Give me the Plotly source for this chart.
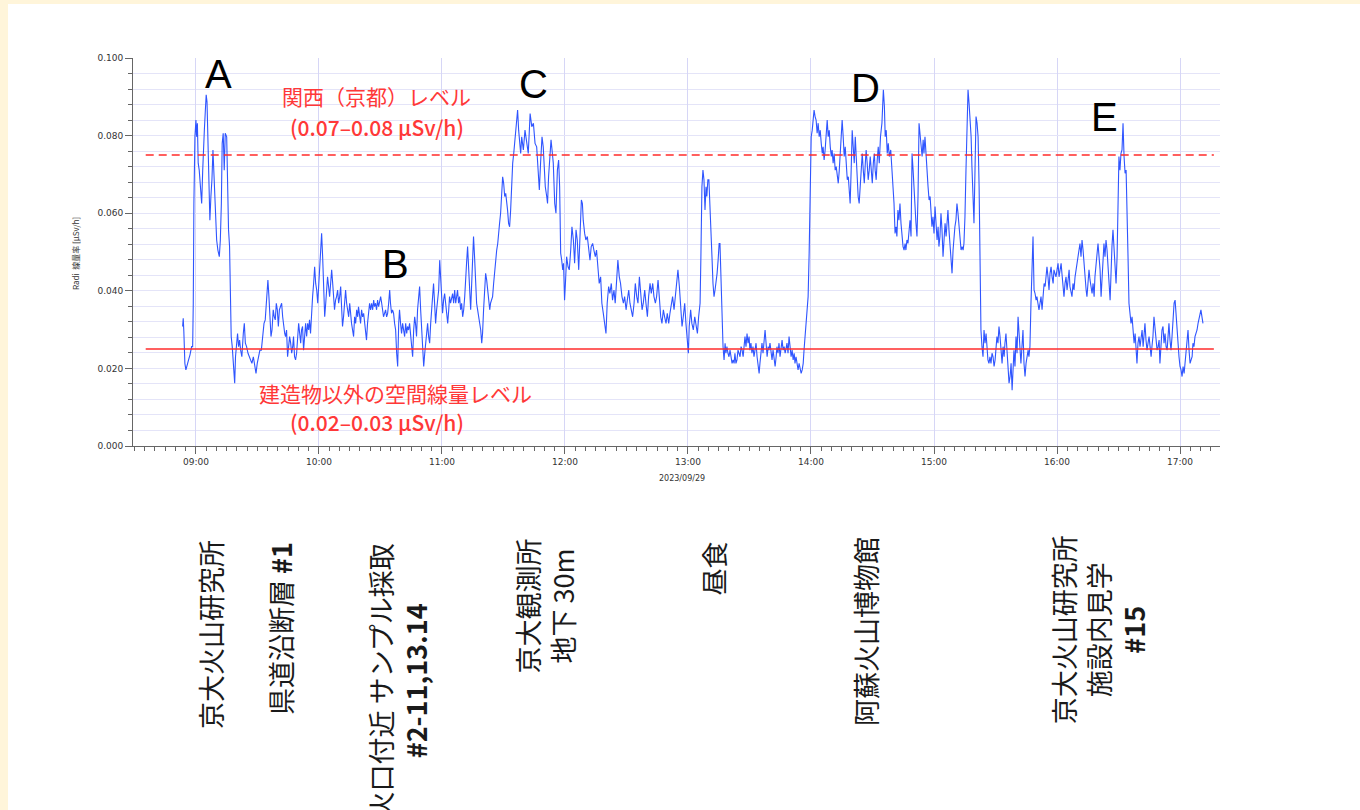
import pandas as pd
import plotly.graph_objects as go

# ---------------- data (minutes after 09:00, dose rate µSv/h) ----------------
seg_morning_A = [(-6.5,0.0308),(-6.2,0.0329),(-5.9,0.0295),(-5.4,0.0213),(-4.9,0.0196),(-4.2,0.0213),(-3.6,0.0222),(-2.9,0.0235),(-2.1,0.0256),(-1.6,0.0256),(-1.3,0.0368),(-1.0,0.0625),(-0.5,0.0797),(0.0,0.0840),(0.3,0.0797),(0.7,0.0832),(1.1,0.0729),(1.6,0.0711),(2.3,0.0668),(2.8,0.0625),(3.3,0.0711),(3.6,0.0780),(4.1,0.0814),(4.6,0.0866),(5.0,0.0905),(5.4,0.0887),(5.7,0.0832),(6.2,0.0737),(6.5,0.0668),(6.8,0.0582),(7.3,0.0643),(7.8,0.0686),(8.3,0.0763),(8.8,0.0686),(9.4,0.0610),(10.1,0.0531),(10.7,0.0505),(11.4,0.0488),(11.9,0.0531),(12.4,0.0625),(12.8,0.0780),(13.3,0.0806),(13.8,0.0711),(14.3,0.0806),(15.0,0.0797),(15.4,0.0668),(15.9,0.0557),(16.4,0.0514),(16.7,0.0368),(17.2,0.0282),(17.7,0.0256),(18.2,0.0222),(18.9,0.0162),(19.3,0.0230),(19.8,0.0265),(20.3,0.0290),(20.8,0.0256),(21.3,0.0273),(21.8,0.0247),(22.4,0.0230),(23.1,0.0290),(23.6,0.0316),(24.1,0.0265),(24.7,0.0256),(25.4,0.0239),(26.0,0.0230),(26.7,0.0222),(27.3,0.0213),(28.0,0.0230),(28.6,0.0213),(29.3,0.0187),(29.9,0.0213),(30.6,0.0230),(31.2,0.0247),(31.9,0.0247),(32.5,0.0282),(33.2,0.0316),(33.8,0.0325),(34.5,0.0376),(35.1,0.0428),(35.6,0.0385),(36.1,0.0342),(36.6,0.0282),(37.1,0.0299),(37.7,0.0351),(38.2,0.0333),(38.7,0.0325),(39.2,0.0368),(39.7,0.0351),(40.2,0.0308),(40.7,0.0351),(41.2,0.0359),(41.8,0.0368),(42.3,0.0333),(42.8,0.0308),(43.3,0.0290),(43.7,0.0282)]

seg_morning_B = [(44.2,0.0299),(44.7,0.0230),(45.2,0.0256),(45.7,0.0282),(46.2,0.0265),(46.7,0.0239),(47.2,0.0256),(47.6,0.0282),(48.1,0.0230),(48.6,0.0222),(49.1,0.0239),(49.6,0.0273),(50.1,0.0316),(50.6,0.0290),(51.1,0.0265),(51.5,0.0299),(52.0,0.0308),(52.5,0.0247),(53.0,0.0290),(53.5,0.0316),(54.0,0.0282),(54.5,0.0316),(55.0,0.0299),(55.4,0.0325),(55.9,0.0290),(56.4,0.0351),(56.9,0.0385),(57.4,0.0419),(57.9,0.0462),(58.4,0.0419),(58.9,0.0402),(59.4,0.0368),(59.8,0.0411),(60.3,0.0454),(60.8,0.0505),(61.3,0.0548),(61.8,0.0488),(62.3,0.0411),(62.8,0.0333),(63.3,0.0368),(63.7,0.0402),(64.2,0.0436),(64.7,0.0411),(65.2,0.0385),(65.7,0.0419),(66.2,0.0454),(66.7,0.0419),(67.2,0.0368),(67.6,0.0351),(68.1,0.0376),(68.6,0.0385),(69.1,0.0402),(69.6,0.0368),(70.1,0.0385),(70.6,0.0411),(71.1,0.0351),(71.5,0.0308),(72.0,0.0333),(72.5,0.0376),(73.0,0.0402),(73.5,0.0368),(74.0,0.0351),(74.5,0.0333),(75.0,0.0368),(75.4,0.0333),(75.9,0.0316),(76.4,0.0299),(76.9,0.0282),(77.4,0.0333),(77.9,0.0316),(78.4,0.0351),(78.9,0.0333),(79.3,0.0359),(79.8,0.0342),(80.3,0.0316),(80.8,0.0351),(81.3,0.0333),(81.8,0.0342),(82.3,0.0316),(82.8,0.0299),(83.2,0.0273),(83.7,0.0316),(84.2,0.0351),(84.7,0.0368),(85.2,0.0351),(85.7,0.0368),(86.2,0.0351),(86.7,0.0376),(87.1,0.0359),(87.6,0.0368),(88.1,0.0351),(88.6,0.0376),(89.1,0.0359),(89.6,0.0376),(90.1,0.0385),(90.6,0.0368),(91.0,0.0351),(91.5,0.0333),(92.0,0.0342),(92.5,0.0351),(93.0,0.0333),(93.5,0.0342),(94.0,0.0368),(94.5,0.0402),(94.9,0.0368),(95.4,0.0342),(95.9,0.0351),(96.4,0.0342),(96.9,0.0316),(97.4,0.0299),(97.9,0.0239),(98.4,0.0205),(98.9,0.0316),(99.3,0.0351),(99.8,0.0316)]

seg_late_morning = [(100.3,0.0290),(100.8,0.0316),(101.3,0.0299),(101.8,0.0282),(102.3,0.0316),(102.8,0.0290),(103.2,0.0308),(103.7,0.0299),(104.2,0.0316),(104.7,0.0282),(105.2,0.0247),(105.7,0.0230),(106.2,0.0299),(106.7,0.0333),(107.1,0.0316),(107.6,0.0282),(108.1,0.0351),(108.6,0.0393),(109.1,0.0411),(109.6,0.0351),(110.1,0.0290),(110.6,0.0239),(111.1,0.0205),(111.6,0.0239),(112.0,0.0265),(112.5,0.0282),(113.0,0.0316),(113.5,0.0282),(114.0,0.0265),(114.5,0.0316),(115.0,0.0351),(115.5,0.0385),(115.9,0.0419),(116.4,0.0368),(116.9,0.0316),(117.4,0.0351),(117.9,0.0376),(118.4,0.0402),(118.9,0.0479),(119.4,0.0436),(119.8,0.0385),(120.3,0.0342),(120.8,0.0376),(121.3,0.0393),(121.8,0.0368),(122.3,0.0333),(122.8,0.0316),(123.3,0.0351),(123.7,0.0385),(124.2,0.0368),(124.7,0.0385),(125.2,0.0393),(125.7,0.0368),(126.2,0.0402),(126.7,0.0368),(127.2,0.0385),(127.6,0.0402),(128.1,0.0368),(128.6,0.0385),(129.1,0.0351),(129.6,0.0368),(130.1,0.0333),(130.6,0.0351),(131.1,0.0385),(131.5,0.0436),(132.0,0.0471),(132.5,0.0514),(133.0,0.0454),(133.5,0.0385),(134.0,0.0351),(134.5,0.0419),(135.0,0.0488),(135.4,0.0540),(135.9,0.0488),(136.4,0.0411),(136.9,0.0368),(137.4,0.0351),(137.9,0.0333),(138.4,0.0316),(138.9,0.0299),(139.4,0.0265),(139.8,0.0290),(140.3,0.0351),(140.8,0.0411),(141.3,0.0445),(141.8,0.0428),(142.3,0.0402),(142.8,0.0368),(143.3,0.0351),(143.7,0.0368),(144.2,0.0376),(144.7,0.0385),(145.2,0.0419),(145.7,0.0454),(146.2,0.0488),(146.7,0.0505),(147.2,0.0522),(147.6,0.0557),(148.1,0.0574),(148.6,0.0600),(149.1,0.0643),(149.6,0.0694),(150.1,0.0677),(150.6,0.0643),(151.1,0.0651),(151.5,0.0634),(152.0,0.0608),(152.5,0.0574),(153.0,0.0565),(153.5,0.0608),(154.0,0.0694),(154.5,0.0729),(155.0,0.0754),(155.4,0.0780),(155.9,0.0814),(156.4,0.0849),(156.9,0.0866),(157.4,0.0814),(157.9,0.0771),(158.4,0.0754)]

seg_noon_C = [(158.9,0.0797),(159.7,0.0763),(160.5,0.0814),(161.3,0.0789),(162.1,0.0754),(163.0,0.0857),(163.8,0.0823),(164.6,0.0832),(165.4,0.0780),(166.2,0.0771),(167.0,0.0711),(167.5,0.0660),(168.1,0.0729),(168.8,0.0797),(169.4,0.0771),(169.9,0.0711),(170.4,0.0668),(171.1,0.0643),(171.5,0.0625),(172.0,0.0694),(172.7,0.0763),(173.2,0.0789),(173.7,0.0763),(174.3,0.0729),(175.0,0.0625),(175.6,0.0600),(176.3,0.0711),(176.9,0.0737),(177.4,0.0668),(177.9,0.0497),(178.4,0.0479),(178.9,0.0454),(179.3,0.0471),(179.8,0.0376),(180.3,0.0428),(180.8,0.0488),(181.5,0.0462),(182.1,0.0454),(182.8,0.0505),(183.4,0.0565),(184.1,0.0531),(184.7,0.0471),(185.4,0.0557),(186.0,0.0531),(186.7,0.0454),(187.3,0.0531),(188.0,0.0634),(188.5,0.0625),(188.9,0.0582),(189.6,0.0548),(190.2,0.0531),(190.9,0.0540),(191.5,0.0514),(192.2,0.0479),(192.8,0.0514),(193.5,0.0522),(194.1,0.0505),(194.8,0.0488),(195.4,0.0505),(196.1,0.0454),(196.7,0.0419),(197.4,0.0436),(198.0,0.0368),(198.7,0.0342),(199.3,0.0316),(200.0,0.0290),(200.6,0.0368),(201.3,0.0411),(201.9,0.0393),(202.6,0.0419),(203.2,0.0376),(203.9,0.0402),(204.5,0.0368),(205.2,0.0419),(205.8,0.0479),(206.5,0.0436),(207.1,0.0419),(207.8,0.0385),(208.5,0.0368),(209.1,0.0385),(209.8,0.0351),(210.4,0.0376),(211.1,0.0402),(211.7,0.0368),(212.4,0.0342),(213.0,0.0333),(213.7,0.0368),(214.3,0.0419),(215.0,0.0385),(215.6,0.0368),(216.3,0.0436),(216.9,0.0402),(217.6,0.0351),(218.2,0.0368),(218.9,0.0402),(219.5,0.0368),(220.2,0.0333),(220.8,0.0385),(221.5,0.0419),(222.1,0.0393),(222.8,0.0419),(223.4,0.0385),(224.1,0.0368),(224.7,0.0385),(225.4,0.0428),(226.0,0.0385),(226.7,0.0333),(227.3,0.0316),(228.0,0.0351),(228.6,0.0333),(229.3,0.0316),(229.9,0.0342),(230.6,0.0316),(231.2,0.0342),(231.9,0.0368),(232.5,0.0385),(233.2,0.0351),(233.8,0.0385),(234.5,0.0436),(235.1,0.0454),(235.8,0.0411),(236.4,0.0351),(237.1,0.0308),(237.7,0.0333),(238.4,0.0368),(239.0,0.0316),(239.7,0.0265)]

seg_lunch = [(240.2,0.0239),(240.6,0.0308),(241.3,0.0351),(241.9,0.0316),(242.6,0.0299),(243.3,0.0333),(243.9,0.0316),(244.6,0.0290),(245.2,0.0333),(245.9,0.0368),(246.3,0.0488),(246.8,0.0668),(247.3,0.0711),(247.8,0.0686),(248.3,0.0608),(248.8,0.0668),(249.2,0.0643),(249.7,0.0686),(250.2,0.0686),(250.7,0.0600),(251.2,0.0557),(251.7,0.0488),(252.2,0.0419),(252.7,0.0385),(253.2,0.0402),(253.7,0.0419),(254.2,0.0445),(254.7,0.0479),(255.2,0.0522),(255.6,0.0522),(256.1,0.0419),(256.6,0.0316),(257.1,0.0256),(257.6,0.0222),(258.1,0.0265),(258.5,0.0239),(259.0,0.0256),(259.5,0.0239),(260.0,0.0230),(260.5,0.0247),(261.0,0.0222),(261.5,0.0213),(262.0,0.0222),(262.5,0.0213),(262.9,0.0239),(263.4,0.0213),(263.9,0.0222),(264.4,0.0247),(264.9,0.0239),(265.4,0.0230),(265.9,0.0256),(266.4,0.0247),(266.9,0.0230),(267.3,0.0265),(267.8,0.0282),(268.3,0.0256),(268.8,0.0290),(269.3,0.0265),(269.8,0.0282),(270.2,0.0247),(270.7,0.0265),(271.2,0.0239),(271.7,0.0256),(272.2,0.0230),(272.7,0.0247),(273.2,0.0265),(273.7,0.0230),(274.2,0.0213),(274.7,0.0187),(275.1,0.0213),(275.6,0.0247),(276.1,0.0265),(276.6,0.0239),(277.1,0.0273),(277.6,0.0299),(278.1,0.0265),(278.6,0.0230),(279.1,0.0256),(279.5,0.0247),(280.0,0.0265),(280.5,0.0239),(281.0,0.0222),(281.5,0.0247),(282.0,0.0222),(282.5,0.0205),(283.0,0.0230),(283.4,0.0256),(283.9,0.0239),(284.4,0.0265),(284.9,0.0230),(285.4,0.0247),(285.9,0.0273),(286.4,0.0247),(286.9,0.0256),(287.4,0.0239),(287.8,0.0256),(288.3,0.0265),(288.8,0.0239),(289.3,0.0282),(289.8,0.0256),(290.3,0.0230),(290.8,0.0247),(291.3,0.0222),(291.8,0.0239),(292.2,0.0213),(292.7,0.0230),(293.2,0.0205),(293.7,0.0196),(294.2,0.0213),(294.7,0.0196),(295.2,0.0187),(295.7,0.0196),(296.2,0.0213),(296.6,0.0247),(297.1,0.0282),(297.6,0.0316),(298.1,0.0368),(298.6,0.0385),(299.1,0.0497),(299.6,0.0711)]

seg_museum_D = [(300.1,0.0797),(300.6,0.0814),(301.1,0.0857),(301.5,0.0866),(302.0,0.0849),(302.5,0.0840),(303.0,0.0806),(303.5,0.0832),(304.0,0.0797),(304.5,0.0814),(305.0,0.0780),(305.5,0.0754),(305.9,0.0771),(306.4,0.0737),(306.9,0.0763),(307.4,0.0797),(307.9,0.0840),(308.4,0.0797),(308.9,0.0814),(309.4,0.0771),(309.9,0.0746),(310.3,0.0763),(310.8,0.0729),(311.3,0.0754),(311.8,0.0711),(312.3,0.0720),(312.8,0.0694),(313.3,0.0677),(313.8,0.0711),(314.2,0.0746),(314.7,0.0780),(315.2,0.0840),(315.7,0.0797),(316.2,0.0746),(316.7,0.0771),(317.2,0.0720),(317.7,0.0686),(318.2,0.0694),(318.6,0.0651),(319.1,0.0625),(319.6,0.0711),(320.1,0.0814),(320.6,0.0771),(321.1,0.0729),(321.6,0.0797),(322.1,0.0746),(322.5,0.0686),(323.0,0.0643),(323.5,0.0625),(324.0,0.0668),(324.5,0.0703),(325.0,0.0754),(325.5,0.0711),(326.0,0.0677),(326.5,0.0729),(326.9,0.0763),(327.4,0.0729),(327.9,0.0686),(328.4,0.0711),(328.9,0.0746),(329.4,0.0711),(329.9,0.0677),(330.4,0.0729),(330.9,0.0754),(331.3,0.0711),(331.8,0.0686),(332.3,0.0737),(332.8,0.0771),(333.3,0.0729),(333.9,0.0797),(334.6,0.0832),(335.3,0.0918),(335.8,0.0875),(336.2,0.0797),(336.7,0.0814),(337.2,0.0754),(337.7,0.0780),(338.2,0.0746),(338.9,0.0763),(339.5,0.0711),(340.0,0.0677),(340.5,0.0625),(341.0,0.0548),(341.5,0.0565),(341.9,0.0540),(342.4,0.0608),(342.9,0.0582),(343.4,0.0625),(343.9,0.0574),(344.4,0.0540),(344.9,0.0514),(345.4,0.0505),(345.9,0.0522),(346.3,0.0505),(346.8,0.0531),(347.3,0.0522),(347.8,0.0548),(348.3,0.0582),(348.8,0.0540),(349.3,0.0754),(349.8,0.0711),(350.2,0.0668),(350.7,0.0608),(351.2,0.0574),(351.7,0.0540),(352.2,0.0643),(352.7,0.0832),(353.2,0.0797),(353.7,0.0771),(354.2,0.0746),(354.7,0.0789),(355.1,0.0754),(355.6,0.0797),(356.1,0.0729),(356.6,0.0711),(357.1,0.0668),(357.6,0.0634),(358.1,0.0643),(358.5,0.0608),(359.0,0.0565),(359.5,0.0591)]

seg_afternoon = [(360.0,0.0548),(360.5,0.0617),(361.0,0.0565),(361.5,0.0531),(362.0,0.0565),(362.4,0.0514),(362.9,0.0540),(363.4,0.0600),(363.9,0.0557),(364.4,0.0488),(364.9,0.0531),(365.4,0.0574),(365.9,0.0540),(366.3,0.0565),(366.8,0.0608),(367.3,0.0557),(367.8,0.0522),(368.3,0.0488),(368.8,0.0445),(369.3,0.0505),(369.8,0.0548),(370.2,0.0565),(370.7,0.0582),(371.2,0.0625),(371.7,0.0600),(372.2,0.0565),(372.7,0.0531),(373.2,0.0505),(373.7,0.0514),(374.2,0.0505),(374.6,0.0522),(375.1,0.0591),(375.6,0.0711),(376.1,0.0866),(376.6,0.0918),(377.1,0.0883),(377.6,0.0849),(378.1,0.0797),(378.5,0.0720),(379.0,0.0625),(379.5,0.0574),(380.0,0.0711),(380.5,0.0849),(381.0,0.0832),(381.5,0.0797),(382.0,0.0668),(382.4,0.0454),(382.9,0.0299),(383.4,0.0256),(383.9,0.0230),(384.4,0.0299),(384.9,0.0265),(385.4,0.0290),(385.9,0.0239),(386.3,0.0222),(386.8,0.0213),(387.3,0.0230),(387.8,0.0213),(388.3,0.0239),(388.8,0.0230),(389.3,0.0205),(389.8,0.0222),(390.2,0.0247),(390.7,0.0282),(391.2,0.0265),(391.7,0.0308),(392.2,0.0282),(392.7,0.0247),(393.2,0.0213),(393.7,0.0256),(394.2,0.0230),(394.6,0.0265),(395.1,0.0290),(395.6,0.0247),(396.1,0.0196),(396.6,0.0162),(397.1,0.0179),(397.6,0.0213),(398.1,0.0144),(398.5,0.0196),(399.0,0.0247),(399.5,0.0205),(400.0,0.0282),(400.5,0.0239),(401.0,0.0333),(401.5,0.0290),(402.0,0.0256),(402.4,0.0213),(402.9,0.0256),(403.4,0.0299),(403.9,0.0213),(404.4,0.0179),(404.9,0.0213),(405.4,0.0230),(405.9,0.0247),(406.3,0.0230),(406.8,0.0256),(407.3,0.0368),(407.8,0.0454),(408.3,0.0540),(408.8,0.0402),(409.3,0.0393),(409.8,0.0376),(410.2,0.0385),(410.7,0.0368),(411.2,0.0351),(411.7,0.0368),(412.2,0.0385),(412.7,0.0351),(413.2,0.0376),(413.7,0.0419),(414.2,0.0411),(414.6,0.0436),(415.1,0.0462),(415.6,0.0436),(416.1,0.0402),(416.6,0.0445),(417.1,0.0462),(417.6,0.0436),(418.1,0.0419),(418.5,0.0454),(419.0,0.0445),(419.5,0.0436)]

seg_visit_E = [(420.0,0.0454),(420.5,0.0471),(421.0,0.0436),(421.5,0.0462),(422.0,0.0471),(422.4,0.0445),(422.9,0.0419),(423.4,0.0385),(423.9,0.0419),(424.4,0.0436),(424.9,0.0402),(425.4,0.0428),(425.9,0.0454),(426.3,0.0411),(426.8,0.0393),(427.3,0.0385),(427.8,0.0419),(428.3,0.0402),(428.8,0.0436),(429.3,0.0454),(429.8,0.0471),(430.2,0.0488),(430.7,0.0514),(431.2,0.0522),(431.7,0.0488),(432.2,0.0531),(432.7,0.0505),(433.2,0.0454),(433.7,0.0436),(434.2,0.0402),(434.6,0.0385),(435.1,0.0419),(435.6,0.0454),(436.1,0.0428),(436.6,0.0411),(437.1,0.0393),(437.6,0.0419),(438.1,0.0385),(438.5,0.0436),(439.0,0.0471),(439.5,0.0497),(440.0,0.0522),(440.5,0.0488),(441.0,0.0454),(441.5,0.0385),(442.0,0.0436),(442.4,0.0497),(442.9,0.0522),(443.4,0.0488),(443.9,0.0531),(444.4,0.0505),(444.9,0.0471),(445.4,0.0419),(445.9,0.0376),(446.3,0.0454),(446.8,0.0514),(447.3,0.0557),(447.8,0.0505),(448.3,0.0454),(448.8,0.0419),(449.3,0.0488),(449.8,0.0625),(450.2,0.0746),(450.7,0.0711),(451.2,0.0754),(451.7,0.0763),(452.2,0.0832),(452.7,0.0746),(453.2,0.0703),(453.7,0.0711),(454.2,0.0625),(454.6,0.0497),(455.1,0.0368),(455.6,0.0333),(456.1,0.0316),(456.6,0.0333),(457.1,0.0290),(457.6,0.0265),(458.1,0.0290),(458.5,0.0256),(459.0,0.0213),(459.5,0.0265),(460.0,0.0282),(460.5,0.0256),(461.0,0.0273),(461.5,0.0299),(462.0,0.0256),(462.4,0.0282),(462.9,0.0316),(463.4,0.0273),(463.9,0.0247),(464.4,0.0265),(464.9,0.0282),(465.4,0.0256),(465.9,0.0230),(466.3,0.0256),(466.8,0.0282),(467.3,0.0333),(467.8,0.0299),(468.3,0.0273),(468.8,0.0247),(469.3,0.0256),(469.8,0.0273),(470.2,0.0213),(470.7,0.0265),(471.2,0.0299),(471.7,0.0308),(472.2,0.0265),(472.7,0.0290),(473.2,0.0256),(473.7,0.0247),(474.2,0.0282),(474.6,0.0316),(475.1,0.0273),(475.6,0.0247),(476.1,0.0282),(476.6,0.0342),(477.1,0.0368),(477.6,0.0376),(478.1,0.0333),(478.5,0.0290),(479.0,0.0256),(479.5,0.0230),(480.0,0.0205),(480.5,0.0196),(481.0,0.0179),(481.5,0.0205),(482.0,0.0187),(482.4,0.0213),(482.9,0.0247),(483.4,0.0282),(483.9,0.0299),(484.4,0.0247),(484.9,0.0213),(485.4,0.0222),(485.9,0.0230),(486.3,0.0265),(486.8,0.0256),(487.3,0.0282),(487.8,0.0290),(488.3,0.0299),(488.8,0.0316),(489.3,0.0333),(489.8,0.0342),(490.2,0.0351),(490.7,0.0333),(491.2,0.0316)]

segments = [seg_morning_A, seg_morning_B, seg_late_morning, seg_noon_C,
            seg_lunch, seg_museum_D, seg_afternoon, seg_visit_E]

# reference levels (µSv/h) and the time span (minutes after 09:00) they are drawn over
kansai_level = 0.075
outdoor_level = 0.025
level_span_minutes = [-24.5, 496.5]

x_range_minutes = [-30.7, 499.5]
y_range = [0.0, 0.100]
date_label = "2023/09/29"
y_title = "Radi  線量率 [µSv/h]"

peak_letters = ["A", "B", "C", "D", "E"]
peak_pos = [(0.0791, 0.958), (0.2419, 0.469), (0.3689, 0.933), (0.6743, 0.923), (0.8933, 0.848)]

red_texts = ["関西（京都）レベル", "(0.07–0.08 µSv/h)",
             "建造物以外の空間線量レベル", "(0.02–0.03 µSv/h)"]
red_weights = [400, 500, 400, 500]
red_pos = [(0.2236, 0.902), (0.2245, 0.822), (0.2419, 0.137), (0.2245, 0.062)]

site_labels = ["京大火山研究所",
               "県道沿断層 <b>#1</b>",
               "火口付近 サンプル採取<br><b>#2-11,13.14</b>",
               "京大観測所<br>地下 30m",
               "昼食",
               "阿蘇火山博物館",
               "京大火山研究所<br>施設内見学<br><b>#15</b>"]
site_pos = [(0.0708, -0.236), (0.1352, -0.241), (0.2433, -0.246), (0.3786, -0.233),
            (0.5345, -0.241), (0.6743, -0.228), (0.8878, -0.226)]

# ---------------- build ----------------
base = pd.Timestamp("2023-09-29 09:00:00")
def to_time(mins):
    return base + pd.to_timedelta(mins, unit="m")

all_pts = [p for seg in segments for p in seg]
times = [to_time(t) for t, _ in all_pts]
vals = [v for _, v in all_pts]

fig = go.Figure()
fig.add_trace(go.Scatter(x=times, y=vals, mode="lines",
                         line=dict(color="#2f55ff", width=1.1), hoverinfo="skip"))

span = [to_time(m) for m in level_span_minutes]
fig.add_trace(go.Scatter(x=span, y=[kansai_level, kansai_level], mode="lines",
                         line=dict(color="#ff2b2b", width=1.6, dash="8px,5px")))
fig.add_trace(go.Scatter(x=span, y=[outdoor_level, outdoor_level], mode="lines",
                         line=dict(color="#ff2b2b", width=1.6)))

grid_c = "#e4e4f8"
fig.update_xaxes(range=[to_time(x_range_minutes[0]), to_time(x_range_minutes[1])],
                 type="date", tickformat="%H:%M", dtick=3600000,
                 tick0="2023-09-29 09:00:00", ticks="outside", ticklen=7,
                 tickcolor="#666", showline=True, linecolor="#666", linewidth=1,
                 showgrid=True, gridcolor="#d6d6f6", gridwidth=1, zeroline=False,
                 tickfont=dict(family="DejaVu Sans", size=9, color="#333"),
                 minor=dict(dtick=300000, ticks="outside", ticklen=4,
                            tickcolor="#666", showgrid=False))
fig.update_yaxes(range=y_range, dtick=0.02, tickformat=".3f", ticks="outside",
                 ticklen=7, tickcolor="#666", showline=True, linecolor="#666",
                 linewidth=1, showgrid=True, gridcolor=grid_c, zeroline=False,
                 tickfont=dict(family="DejaVu Sans", size=9, color="#333"),
                 minor=dict(dtick=0.004, ticks="outside", ticklen=4,
                            tickcolor="#666", showgrid=True, gridcolor=grid_c))

ann = []
for txt, (px, py) in zip(peak_letters, peak_pos):
    ann.append(dict(text=txt, x=px, y=py, xref="paper", yref="paper",
                    showarrow=False, xanchor="center", yanchor="middle",
                    font=dict(family="Liberation Sans", size=40, color="#000")))
for txt, wt, (px, py) in zip(red_texts, red_weights, red_pos):
    ann.append(dict(text=txt, x=px, y=py, xref="paper", yref="paper",
                    showarrow=False, xanchor="center", yanchor="middle",
                    font=dict(family="Noto Sans CJK JP", size=21, color="#ff3838",
                              weight=wt)))
for txt, (px, py) in zip(site_labels, site_pos):
    ann.append(dict(text=txt, x=px, y=py, xref="paper", yref="paper",
                    showarrow=False, xanchor="center", yanchor="top",
                    textangle=-90, align="center",
                    font=dict(family="Noto Sans CJK JP", size=27, color="#1a1a1a")))
ann.append(dict(text=date_label, x=0.505, y=-0.085, xref="paper", yref="paper",
                showarrow=False, xanchor="center", yanchor="middle",
                font=dict(family="DejaVu Sans", size=8, color="#333")))
ann.append(dict(text=y_title, x=-0.0534, y=0.497, xref="paper", yref="paper",
                showarrow=False, xanchor="center", yanchor="middle", textangle=-90,
                font=dict(family="Noto Sans CJK JP", size=8, color="#333")))

cream = "#fff5da"
shapes = [
    dict(type="rect", xref="paper", yref="paper", x0=-0.2, x1=(8 - 133) / 1087,
         y0=-1.0, y1=1.2, fillcolor=cream, line=dict(width=0), layer="above"),
    dict(type="rect", xref="paper", yref="paper", x0=-0.2, x1=1.2,
         y0=(446 - 4) / 388, y1=1.2, fillcolor=cream, line=dict(width=0), layer="above"),
]

fig.update_layout(width=1360, height=810, autosize=False,
                  margin=dict(l=133, r=140, t=58, b=364),
                  paper_bgcolor="white", plot_bgcolor="white",
                  showlegend=False, annotations=ann, shapes=shapes)

fig.write_html("out.html",
               config={"displayModeBar": False},
               post_script="document.body.style.margin='0';"
                           "document.body.style.overflow='hidden';"
                           "document.body.style.background='white';")
